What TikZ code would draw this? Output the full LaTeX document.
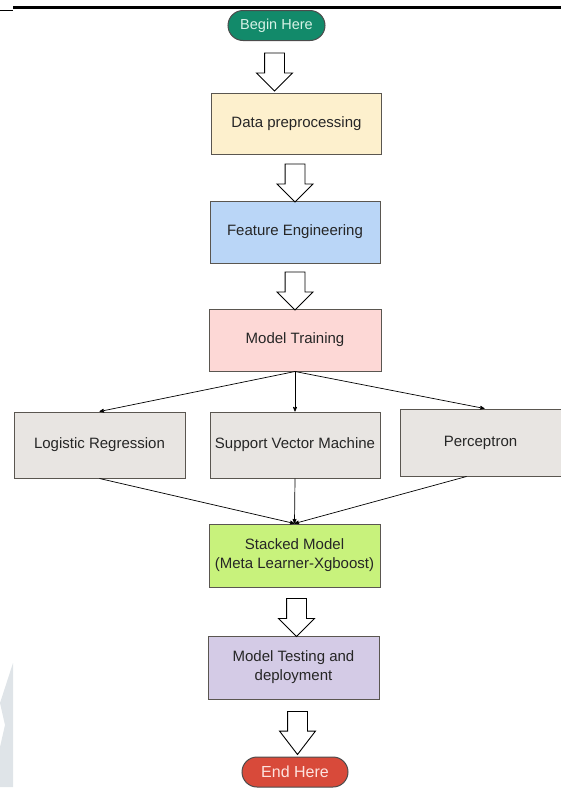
\documentclass[tikz,border=0pt]{standalone}
\usepackage{fontspec}
\setsansfont{Liberation Sans}
\usetikzlibrary{arrows,shapes.arrows}
\definecolor{startgreen}{RGB}{18,138,106}
\definecolor{starttext}{RGB}{214,242,230}
\definecolor{endred}{RGB}{216,74,58}
\definecolor{endtext}{RGB}{253,227,223}
\definecolor{prepyellow}{RGB}{253,240,205}
\definecolor{featblue}{RGB}{186,214,247}
\definecolor{trainpink}{RGB}{253,216,214}
\definecolor{modelgray}{RGB}{232,229,226}
\definecolor{stacklime}{RGB}{200,242,124}
\definecolor{testlilac}{RGB}{212,203,230}
\definecolor{boxline}{RGB}{90,86,80}
\definecolor{markgray}{RGB}{223,228,232}
\tikzset{
  flownode/.style = {align=center, inner sep=0pt, text centered, font=\sffamily\fontsize{15}{19}\selectfont, text=black!85},
  % plain step boxes
  flow_box/.style = {flownode, rectangle, draw=boxline, line width=1pt, minimum width=170, minimum height=62},
  model_box/.style = {flow_box, fill=modelgray, minimum height=66},
  % start / stop pills
  flow_pill/.style = {flownode, rectangle, rounded corners=15, draw=black!70, line width=1pt, minimum height=30},
  fat_arrow/.style = {single arrow, draw=black, fill=white, line width=0.9pt, inner sep=9.5pt,
                      minimum height=38, single arrow head extend=8,
                      shape border rotate=270}
}

\begin{document}
\begin{tikzpicture}[x=1pt,y=-1pt,
    ->,>=stealth', line width=0.7pt
    ]
    \useasboundingbox (0,0) rectangle (561,788);
    % page rule and watermark
    \draw[-, line width=3pt] (13,7) -- (561,7);
    \draw[-, line width=1pt] (0,10) -- (13,10);
    \fill[markgray] (13,663) -- (13,787) -- (0,787) -- (0,747) -- (5,725) -- (0,703) -- cycle;
    % Start node:
    \node [flow_pill, fill=startgreen, text=starttext, minimum width=97, font=\sffamily\fontsize{14.5}{17}\selectfont] (begin) at (276.5,25.5) {Begin Here};
    % Pipeline steps:
    \node [flow_box, fill=prepyellow, minimum height=61] (prep) at (296.5,123.5) {Data preprocessing};
    \node [flow_box, fill=featblue] (feat) at (295,232) {Feature Engineering};
    \node [flow_box, fill=trainpink, minimum width=172] (train) at (295,340) {Model Training};
    % Base learners:
    \node [model_box, minimum width=171] (lr) at (99.5,445) {Logistic Regression};
    \node [model_box] (svm) at (295,445) {Support Vector Machine};
    \node [model_box, minimum width=161, minimum height=67] (perc) at (480.5,442.5) {Perceptron};
    % Meta learner and testing:
    \node [flow_box, fill=stacklime, minimum width=171, minimum height=63] (stack) at (294.5,555.5) {Stacked Model\\(Meta Learner-Xgboost)};
    \node [flow_box, fill=testlilac, minimum width=171, minimum height=63] (test) at (293.5,667.5) {Model Testing and\\deployment};
    % Stop node:
    \node [flow_pill, fill=endred, text=endtext, minimum width=106, font=\sffamily\fontsize{16}{19}\selectfont] (stop) at (295,772) {End Here};

    % Block arrows between steps:
    \node [fat_arrow] (a1) at (274.5,67) {};
    \node [fat_arrow] (a2) at (295,178) {};
    \node [fat_arrow] (a3) at (295,286) {};
    \node [fat_arrow] (a4) at (296.5,612.5) {};
    \node [fat_arrow, minimum height=43, single arrow tip angle=75] (a5) at (297.5,726.5) {};

    % Fan out to the base learners:
    \draw (train.south) -- (lr.north);
    \draw (train.south) -- (svm.north);
    \draw (train.south) -- ([xshift=4]perc.north);
    % Fan in to the stacked model:
    \draw (lr.south) -- (stack.north);
    \draw (svm.south) -- (stack.north);
    \draw ([xshift=-14]perc.south) -- (stack.north);
\end{tikzpicture}
\end{document}
